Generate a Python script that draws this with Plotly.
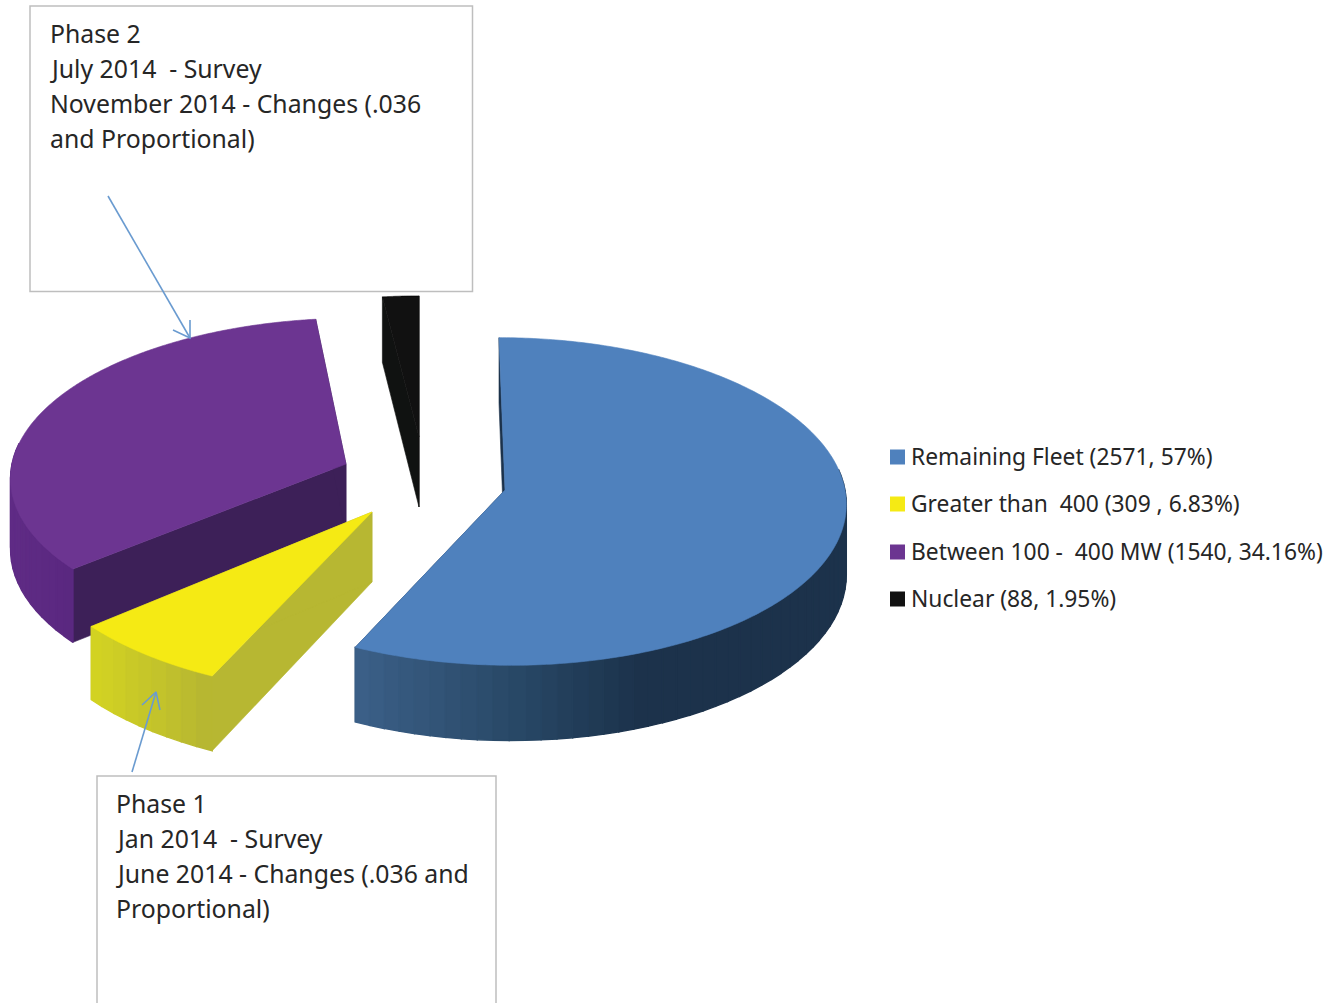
import numpy as np
import plotly.graph_objects as go

# Fleet breakdown shown on the exploded pie
categories = ["Remaining Fleet", "Greater than 400", "Between 100 - 400 MW", "Nuclear"]
units = [2571, 309, 1540, 88]
legend_labels = [
    "Remaining Fleet (2571, 57%)",
    "Greater than \u00a0400 (309 , 6.83%)",
    "Between 100 - \u00a0400 MW (1540, 34.16%)",
    "Nuclear (88, 1.95%)",
]
top_colors = ["#4F81BD", "#F5EA14", "#6C3591", "#111111"]
inner_colors = ["#1C324B", "#B7B732", "#3D2058", "#101211"]

# Side-wall shading as (x pixel, rgb) stops
wall_stops = {
    "Remaining Fleet": [(358, (60, 96, 136)), (520, (40, 72, 102)), (640, (28, 50, 75)), (850, (28, 50, 75))],
    "Greater than 400": [(92, (212, 212, 34)), (208, (183, 183, 50))],
    "Between 100 - 400 MW": [(10, (96, 44, 134)), (76, (90, 40, 128))],
    "Nuclear": [(380, (16, 18, 17)), (420, (16, 18, 17))],
}

# Apex position, radii and lean of each exploded slice
slice_geometry = {
    "Remaining Fleet": dict(cx=505, cy=490, a=340, b=163, lean=-6),
    "Greater than 400": dict(cx=372, cy=512, a=350, b=170, lean=0),
    "Between 100 - 400 MW": dict(cx=346, cy=464, a=334, b=156, lean=8),
    "Nuclear": dict(cx=419, cy=437, a=320, b=151, lean=0),
}
PERSPECTIVE = 0.07
DEPTH = 70


def project(g, t, lift=0.0):
    """Map a pie angle (radians, clockwise from the back) onto the page."""
    d = np.cos(t)
    s = 1.0 / (1.0 + PERSPECTIVE * d)
    x = g["cx"] + g["a"] * np.sin(t) * s + g["lean"] * d
    y = g["cy"] - g["b"] * d * s + lift * s
    return x, y


def polygon(xs, ys, color, width=0.6):
    return go.Scatter(
        x=list(xs), y=list(ys), mode="lines", fill="toself", fillcolor=color,
        line=dict(color=color, width=width, simplify=False), hoverinfo="skip", showlegend=False,
    )


def wall_color(name, x):
    stops = wall_stops[name]
    px = [p[0] for p in stops]
    rgb = [int(np.interp(x, px, [p[1][i] for p in stops])) for i in range(3)]
    return f"rgb({rgb[0]},{rgb[1]},{rgb[2]})"


def slice_traces(name, start, end, top, inner):
    g = slice_geometry[name]
    traces = []
    # Radial faces
    for t in (start, end):
        ax, ay = g["cx"], g["cy"]
        ex, ey = project(g, t)
        bx, by = project(g, t, DEPTH)
        traces.append(polygon([ax, ex, bx, ax, ax], [ay, ey, by, ay + DEPTH, ay], inner))
    # Curved outer wall: narrow shaded strips, farthest first; the far side stays hidden
    edges = np.linspace(start, end, max(int(np.degrees(end - start) / 2.5), 3) + 1)
    strips = [e for e in zip(edges[:-1], edges[1:]) if np.cos((e[0] + e[1]) / 2) < 0.12]
    strips.sort(key=lambda e: -np.cos((e[0] + e[1]) / 2))
    for t0, t1 in strips:
        x0, y0 = project(g, t0)
        x1, y1 = project(g, t1)
        x2, y2 = project(g, t1, DEPTH)
        x3, y3 = project(g, t0, DEPTH)
        traces.append(polygon([x0, x1, x2, x3, x0], [y0, y1, y2, y3, y0],
                              wall_color(name, (x0 + x1) / 2), width=1.4))
    # Top face
    arc = np.linspace(start, end, 300)
    ax_, ay_ = project(g, arc)
    traces.append(polygon([g["cx"], *ax_, g["cx"]], [g["cy"], *ay_, g["cy"]], top))
    return traces


fig = go.Figure()

shares = np.array(units, dtype=float) / sum(units)
ends = np.cumsum(shares) * 2 * np.pi
starts = ends - shares * 2 * np.pi

# Paint back-to-front so nearer slices cover farther ones
for i in (3, 2, 0, 1):
    for tr in slice_traces(categories[i], starts[i], ends[i], top_colors[i], inner_colors[i]):
        fig.add_trace(tr)

# Legend rows
legend_x = [897.5] * 4
legend_y = [457, 504, 552, 599]
for lab, col, lx, ly in zip(legend_labels, top_colors, legend_x, legend_y):
    fig.add_trace(go.Scatter(
        x=[lx], y=[ly], mode="markers", marker=dict(symbol="square", size=15, color=col),
        hoverinfo="skip", showlegend=False,
    ))
    fig.add_annotation(
        x=909, y=ly - 1, text=lab, showarrow=False, xanchor="left", yanchor="middle",
        font=dict(family="Noto Sans", size=22.8, color="#262626"),
    )

# Phase callout boxes
BOX_LINE = dict(color="#BEBEBE", width=1.5)
fig.add_shape(type="rect", x0=30, y0=6, x1=472.5, y1=291.5, line=BOX_LINE, fillcolor="white", layer="below")
fig.add_shape(type="rect", x0=97, y0=776, x1=496, y1=1012, line=BOX_LINE, fillcolor="white", layer="below")

phase2_lines = ["Phase 2", "July 2014 \u00a0- Survey", "November 2014 - Changes (.036", "and Proportional)"]
phase1_lines = ["Phase 1", "Jan 2014 \u00a0- Survey", "June 2014 - Changes (.036 and", "Proportional)"]
for lines, tx, ty in ((phase2_lines, 48, 32.5), (phase1_lines, 114, 802.5)):
    for k, line in enumerate(lines):
        fig.add_annotation(
            x=tx, y=ty + 35.2 * k, text=line, showarrow=False, xanchor="left", yanchor="middle",
            font=dict(family="Noto Sans", size=24.8, color="#262626"),
        )

# Callout arrows: shaft followed by an open head
ARROW = dict(color="#6A9BD0", width=1.6)
for tail, tip, barb_a, barb_b in (
    ((108, 196), (190, 338), (173, 330), (190, 320)),
    ((132, 772), (156, 692), (142, 705), (160, 710)),
):
    fig.add_trace(go.Scatter(
        x=[tail[0], tip[0], None, barb_a[0], tip[0], barb_b[0]],
        y=[tail[1], tip[1], None, barb_a[1], tip[1], barb_b[1]],
        mode="lines", line=ARROW, hoverinfo="skip", showlegend=False,
    ))

fig.update_layout(
    width=1342, height=1003, autosize=False,
    margin=dict(l=0, r=0, t=0, b=0),
    paper_bgcolor="white", plot_bgcolor="white",
    showlegend=False,
    xaxis=dict(range=[0, 1342], visible=False, fixedrange=True),
    yaxis=dict(range=[1003, 0], visible=False, fixedrange=True),
)

fig.write_html("out.html", config={"displayModeBar": False})
